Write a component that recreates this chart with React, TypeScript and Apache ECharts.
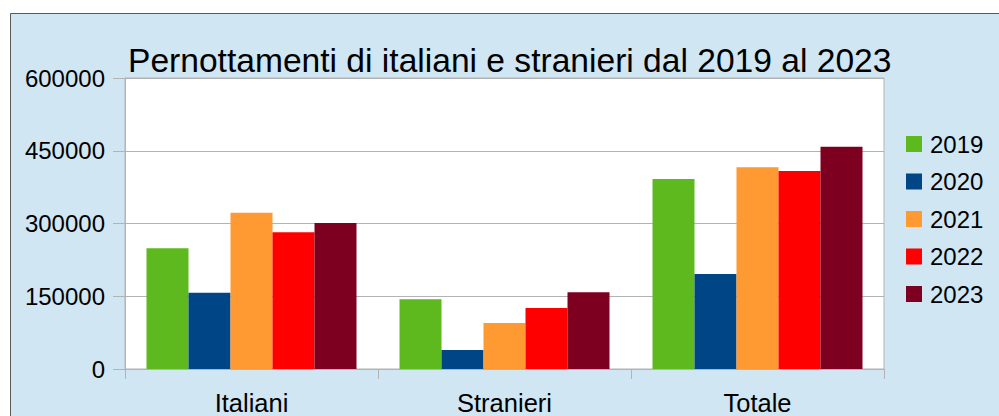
import React, { useEffect, useRef } from "react";
import * as echarts from "echarts";

const categories = ["Italiani", "Stranieri", "Totale"];
const years = ["2019", "2020", "2021", "2022", "2023"];
const v2019 = [249000, 144000, 392000];
const v2020 = [157000, 39000, 196000];
const v2021 = [322000, 95000, 416000];
const v2022 = [282000, 126000, 408000];
const v2023 = [301000, 158000, 458000];
const seriesValues = [v2019, v2020, v2021, v2022, v2023];
const colors = ["#5eb91e", "#004586", "#ff9932", "#ff0000", "#7e0021"];
const titleText = "Pernottamenti di italiani e stranieri dal 2019 al 2023";

export default function App() {
  const ref = useRef<HTMLDivElement>(null);
  useEffect(() => {
    if (!ref.current) return;
    const chart = echarts.init(ref.current, null, { renderer: "svg" });
    const font = "'Liberation Sans', Arial, sans-serif";
    chart.setOption({
      animation: false,
      textStyle: { fontFamily: font, color: "#000" },
      graphic: [
        {
          type: "rect",
          z: -10,
          silent: true,
          shape: { x: 10.5, y: 13.5, width: 1000, height: 500 },
          style: { fill: "#d0e6f3", stroke: "#5a5a5a", lineWidth: 1 },
        },
      ],
      title: {
        text: titleText,
        left: 128,
        top: 43,
        padding: 0,
        textStyle: { fontFamily: font, fontSize: 33.6, fontWeight: "normal", color: "#000" },
      },
      legend: {
        orient: "vertical",
        left: 906,
        top: 132,
        padding: 0,
        itemWidth: 16,
        itemHeight: 16,
        itemGap: 13.5,
        icon: "rect",
        data: years,
        textStyle: { fontFamily: font, fontSize: 24, color: "#000", padding: [0, 0, 0, 3] },
      },
      grid: {
        left: 125,
        top: 78,
        width: 759,
        height: 291,
        show: true,
        backgroundColor: "#ffffff",
        borderColor: "#b3b3b3",
        borderWidth: 1,
      },
      xAxis: {
        type: "category",
        data: categories,
        boundaryGap: true,
        axisLine: { show: true, lineStyle: { color: "#b3b3b3", width: 1 } },
        axisTick: { show: true, length: 10, alignWithLabel: false, lineStyle: { color: "#b3b3b3" } },
        axisLabel: { fontFamily: font, fontSize: 25.5, color: "#000", margin: 21 },
      },
      yAxis: {
        type: "value",
        min: 0,
        max: 600000,
        interval: 150000,
        axisLine: { show: true, lineStyle: { color: "#b3b3b3", width: 1 } },
        axisTick: { show: true, length: 12, lineStyle: { color: "#b3b3b3" } },
        splitLine: { show: true, lineStyle: { color: "#b3b3b3", width: 1 } },
        axisLabel: {
          fontFamily: font,
          fontSize: 24,
          color: "#000",
          margin: 20,
          formatter: (v: number) => String(v),
        },
      },
      series: years.map((y, i) => ({
        name: y,
        type: "bar",
        data: seriesValues[i],
        barGap: "0%",
        barCategoryGap: "17%",
        itemStyle: { color: colors[i] },
      })),
    });
    return () => chart.dispose();
  }, []);
  return (
    <div
      ref={ref}
      style={{ position: "fixed", left: 0, top: 0, width: 999, height: 416, background: "#ffffff" }}
    />
  );
}
